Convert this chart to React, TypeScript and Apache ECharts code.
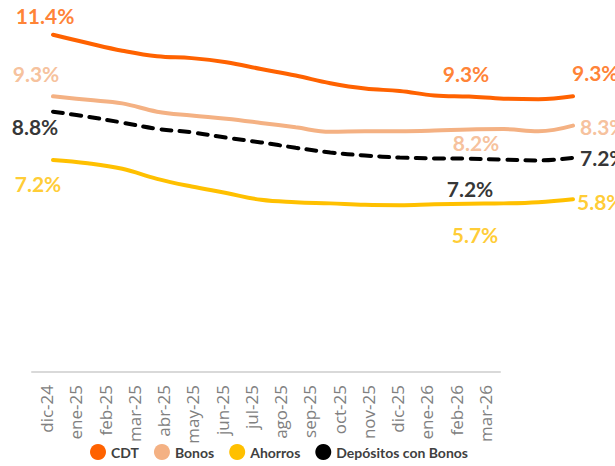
import React, { useEffect, useRef } from "react";
import * as echarts from "echarts";

const months = [
  "dic-24", "ene-25", "feb-25", "mar-25", "abr-25", "may-25", "jun-25", "jul-25",
  "ago-25", "sep-25", "oct-25", "nov-25", "dic-25", "ene-26", "feb-26", "mar-26",
];
const cdt = [11.4, 11.12, 10.86, 10.67, 10.61, 10.47, 10.24, 10.02, 9.76, 9.58, 9.5, 9.35, 9.31, 9.24, 9.22, 9.32];
const bonos = [9.32, 9.2, 9.08, 8.8, 8.67, 8.56, 8.42, 8.27, 8.12, 8.14, 8.14, 8.16, 8.2, 8.21, 8.14, 8.33];
const ahorros = [7.17, 7.06, 6.87, 6.53, 6.27, 6.05, 5.82, 5.74, 5.7, 5.65, 5.64, 5.67, 5.69, 5.7, 5.74, 5.84];
const depositos = [8.8, 8.63, 8.43, 8.22, 8.1, 7.92, 7.76, 7.58, 7.42, 7.32, 7.25, 7.22, 7.21, 7.18, 7.15, 7.24];
const labelIdx = [0, 12, 15];

const seriesNames = ["CDT", "Bonos", "Ahorros", "Depósitos con Bonos"];
const colors = ["#FF6200", "#F4B183", "#FFC000", "#000000"];

// label layout: [align, dx, dy] for each labelled index
const labelLayout = [
  [["center", -8, -19], ["center", -3, -23], ["left", -1, -24]],
  [["center", -17, -23], ["center", 7, 13], ["left", 7, 1]],
  [["center", -15, 24], ["center", 6, 31], ["left", 4, 2]],
  [["center", -18, 15], ["center", 1, 30], ["left", 7, 0]],
];

export default function App() {
  const ref = useRef<HTMLDivElement>(null);
  useEffect(() => {
    if (!ref.current) return;
    const chart = echarts.init(ref.current, null, { renderer: "svg" });
    const datasets = [cdt, bonos, ahorros, depositos];
    const lineSeries = datasets.map((d, k) => ({
      name: seriesNames[k],
      type: "line",
      xAxisIndex: 1,
      yAxisIndex: 1,
      data: d,
      smooth: 0.4,
      showSymbol: false,
      symbol: "circle",
      itemStyle: { color: colors[k] },
      lineStyle:
        k === 3
          ? { color: colors[k], width: 4, type: [10, 8.3], cap: "round" }
          : { color: colors[k], width: 4, cap: "round" },
      z: 3,
    }));
    const labelSeries = datasets.map((d, k) => ({
      name: "lbl" + k,
      type: "scatter",
      xAxisIndex: 1,
      yAxisIndex: 1,
      symbolSize: 1,
      silent: true,
      itemStyle: { color: "rgba(0,0,0,0)" },
      z: 5,
      data: labelIdx.map((i, j) => ({
        value: [i, d[i]],
        label: {
          show: true,
          position: "inside",
          align: labelLayout[k][j][0],
          offset: [labelLayout[k][j][1], labelLayout[k][j][2]],
          formatter: () => d[i].toFixed(1) + "%",
          color: colors[k],
          fontFamily: "Lato, sans-serif",
          fontSize: 21,
          fontWeight: "bold",
        },
      })),
    }));
    chart.setOption({
      animation: false,
      backgroundColor: "#ffffff",
      grid: [
        { left: 32, right: 115, top: 17, bottom: 94 },
        { left: 53, right: 42, top: 17, bottom: 94 },
      ],
      xAxis: [
        {
          type: "category",
          gridIndex: 0,
          data: months,
          boundaryGap: true,
          axisLine: { lineStyle: { color: "#d9d9d9", width: 2 } },
          axisTick: { show: false },
          axisLabel: {
            rotate: 90,
            margin: 13,
            color: "#808080",
            fontFamily: "'Open Sans', sans-serif",
            fontSize: 17,
            interval: 0,
          },
        },
        {
          type: "category",
          gridIndex: 1,
          data: months,
          boundaryGap: false,
          show: false,
        },
      ],
      yAxis: [
        { type: "value", gridIndex: 0, min: 0, max: 12, show: false },
        { type: "value", gridIndex: 1, min: 0, max: 12, show: false },
      ],
      legend: {
        data: seriesNames,
        icon: "circle",
        itemWidth: 16,
        itemHeight: 16,
        itemGap: 15,
        left: 90,
        top: 444,
        padding: 0,
        textStyle: {
          color: "#404040",
          fontFamily: "Lato, sans-serif",
          fontSize: 14,
          fontWeight: "bold",
        },
      },
      series: [...lineSeries, ...labelSeries],
    });
    return () => chart.dispose();
  }, []);
  return (
    <div
      ref={ref}
      style={{ position: "absolute", left: 0, top: 0, width: 615, height: 466 }}
    />
  );
}
